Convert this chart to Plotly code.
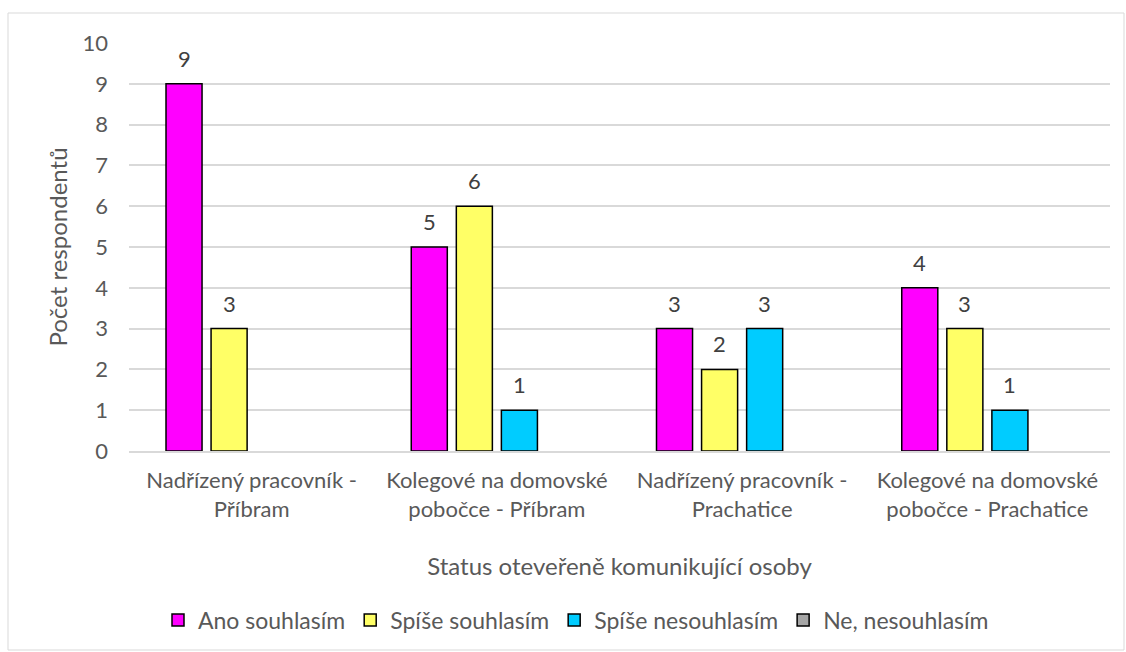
import plotly.graph_objects as go

categories = [
    "Nadřízený pracovník -<br>Příbram",
    "Kolegové na domovské<br>pobočce - Příbram",
    "Nadřízený pracovník -<br>Prachatice",
    "Kolegové na domovské<br>pobočce - Prachatice",
]
series_names = ["Ano souhlasím", "Spíše souhlasím", "Spíše nesouhlasím", "Ne, nesouhlasím"]
ano = [9, 5, 3, 4]
spise_souhlasim = [3, 6, 2, 3]
spise_nesouhlasim = [0, 1, 3, 1]
ne_nesouhlasim = [0, 0, 0, 0]
colors = ["#FF00FF", "#FFFF66", "#00CCFF", "#A6A6A6"]

series_values = [ano, spise_souhlasim, spise_nesouhlasim, ne_nesouhlasim]

W, H = 1126, 652
ml, mr, mt, mb = 129, 16, 43, 201
plot_h = H - mt - mb
plot_w = W - ml - mr
font_family = "Lato, Open Sans, sans-serif"
text_color = "#595959"
tick_size = 22
title_size = 24

fig = go.Figure()
for i, (name, vals, col) in enumerate(zip(series_names, series_values, colors)):
    fig.add_trace(go.Bar(
        x=categories,
        # zero counts leave an empty slot instead of a flat outline
        y=[v if v else None for v in vals],
        name=name, offsetgroup=str(i),
        marker=dict(color=col, line=dict(color="#000000", width=1.5)),
        textposition="none",
        cliponaxis=False,
    ))

# value labels above each non-zero bar
n_series = len(series_values)
for i, vals in enumerate(series_values):
    for j, v in enumerate(vals):
        if v:
            fig.add_annotation(
                x=categories[j], y=v, xref="x", yref="y",
                text=str(v), showarrow=False, yanchor="bottom",
                xshift=(i - (n_series - 1) / 2) * 45, yshift=10,
                font=dict(size=tick_size, color="#404040", family=font_family),
            )

# outer chart frame
fig.add_shape(
    type="rect", xref="paper", yref="paper",
    x0=(8 - ml) / plot_w, x1=(1124 - ml) / plot_w,
    y0=-(650 - (H - mb)) / plot_h, y1=1 + (mt - 13) / plot_h,
    line=dict(color="#D9D9D9", width=1), fillcolor="rgba(0,0,0,0)", layer="below",
)

fig.update_layout(
    width=W, height=H,
    margin=dict(l=ml, r=mr, t=mt, b=mb, autoexpand=False),
    paper_bgcolor="white", plot_bgcolor="white",
    barmode="group", bargap=0.265, bargroupgap=0.2,
    font=dict(family=font_family, size=tick_size, color=text_color),
    showlegend=True,
    legend=dict(
        orientation="h", x=(576 - ml) / plot_w, xanchor="center",
        y=-(620 - (H - mb)) / plot_h, yanchor="middle",
        font=dict(size=23, color=text_color), itemwidth=30,
        traceorder="normal",
    ),
)
fig.update_xaxes(
    showline=True, linecolor="#D9D9D9", linewidth=1.5,
    tickfont=dict(size=tick_size, color=text_color),
    ticklabelstandoff=9,
    title=dict(text="Status oteveřeně komunikující osoby", font=dict(size=title_size, color=text_color), standoff=37),
    ticks="", automargin=False,
)
fig.update_yaxes(
    range=[0, 10], dtick=1,
    showgrid=True, gridcolor="#D9D9D9", gridwidth=1.5,
    zeroline=False,
    tickfont=dict(size=tick_size, color=text_color),
    ticklabelstandoff=20,
    title=dict(text="Počet respondentů", font=dict(size=title_size, color=text_color), standoff=8),
    ticks="", automargin=False,
)

fig.write_html("out.html")
